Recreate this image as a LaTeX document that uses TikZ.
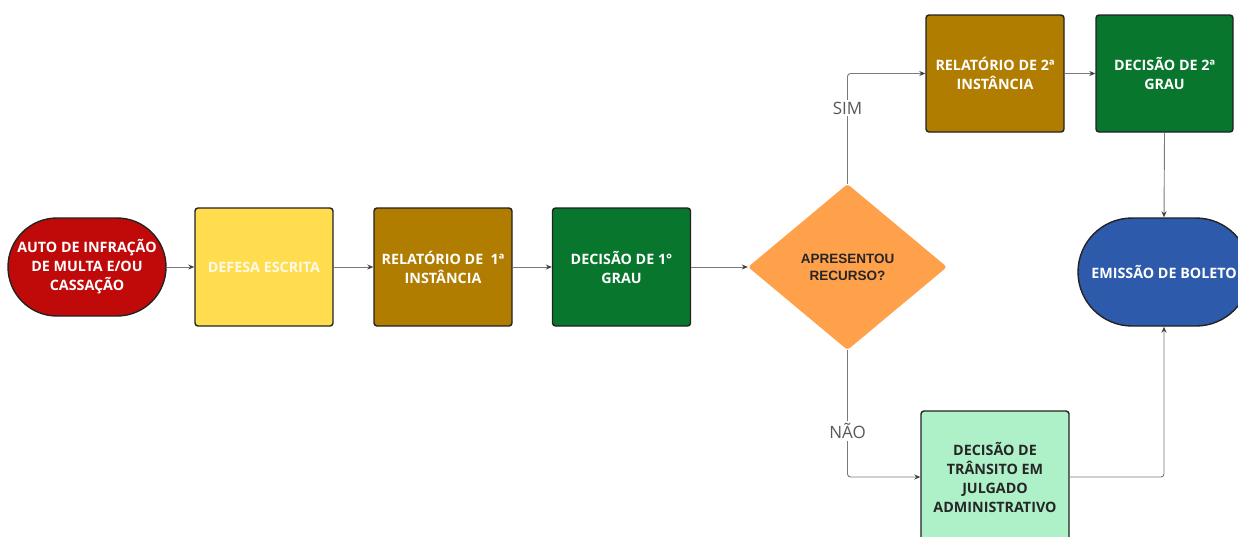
\documentclass[tikz,border=0pt]{standalone}
\usepackage{fontspec}
\setmainfont{Open Sans}
\newfontfamily\diafont{Liberation Sans}
\usetikzlibrary{arrows.meta,shapes.geometric}
\definecolor{cred}{HTML}{C00A0A}
\definecolor{cyellow}{HTML}{FFDD4F}
\definecolor{cytext}{HTML}{FFF9E6}
\definecolor{cbrown}{HTML}{B07D00}
\definecolor{cgreen}{HTML}{08762C}
\definecolor{corange}{HTML}{FFA04A}
\definecolor{cblue}{HTML}{2D5AAB}
\definecolor{clight}{HTML}{AEF0C8}
\definecolor{cline}{HTML}{7A7A7A}
\definecolor{cborder}{HTML}{222222}
\tikzset{
  box/.style={draw=cborder, line width=1.4pt, rounded corners=3pt, minimum width=138pt, minimum height=118pt, align=center, font=\bfseries\fontsize{14.3}{19}\selectfont, text=white, inner sep=2pt},
  term/.style={draw=cborder, line width=1.4pt, align=center, font=\bfseries\fontsize{14.3}{19}\selectfont, text=white, inner sep=0pt},
  conn/.style={draw=cline, line width=0.9pt, -{Stealth[length=6pt,width=5pt,color=black!75]}, rounded corners=3pt},
  lbl/.style={fill=white, text=black!65, font=\fontsize{17}{20}\selectfont, inner sep=2pt}
}
\begin{document}
\begin{tikzpicture}[x=1pt,y=-1pt]
\useasboundingbox (0,0) rectangle (1238,536);
\node[term, fill=cred, minimum width=158pt, minimum height=98pt, rounded corners=49pt] (auto) at (87,267) {AUTO DE INFRAÇÃO\\DE MULTA E/OU\\CASSAÇÃO};
\node[box, fill=cyellow, text=cytext] (defesa) at (264,267) {DEFESA ESCRITA};
\node[box, fill=cbrown] (rel1) at (443,267) {RELATÓRIO DE \ 1ª\\INSTÂNCIA};
\node[box, fill=cgreen] (dec1) at (621.5,267) {DECISÃO DE 1°\\GRAU};
\node[diamond, fill=corange, minimum width=199pt, minimum height=166pt, inner sep=0pt, align=center, rounded corners=3pt, font=\diafont\bfseries\fontsize{13.5}{17}\selectfont, text=black!85] (dia) at (847.5,267) {APRESENTOU\\RECURSO?};
\node[box, fill=cbrown, minimum height=117pt] (rel2) at (995,73.5) {RELATÓRIO DE 2ª\\INSTÂNCIA};
\node[box, fill=cgreen, minimum height=117pt, minimum width=137pt] (dec2) at (1164.5,73.5) {DECISÃO DE 2ª\\GRAU};
\node[term, fill=cblue, minimum width=172pt, minimum height=108pt, rounded corners=54pt] (emis) at (1164,272) {EMISSÃO DE BOLETO};
\node[box, fill=clight, text=black!85, minimum width=148pt, minimum height=132pt] (trans) at (995,477) {DECISÃO DE\\TRÂNSITO EM\\JULGADO\\ADMINISTRATIVO};
\draw[conn] (auto) -- (defesa);
\draw[conn] (defesa) -- (rel1);
\draw[conn] (rel1) -- (dec1);
\draw[conn] (dec1) -- (dia);
\draw[conn] (dia.north) |- (rel2.west);
\node[lbl] (sim) at (847.5,108) {SIM};
\draw[conn] (rel2) -- (dec2);
\draw[conn] (dec2.south) -- (emis.north);
\draw[conn] (dia.south) |- (trans.west);
\node[lbl] (nao) at (847.5,431) {NÃO};
\draw[conn] (trans.east) -| (emis.south);
\end{tikzpicture}
\end{document}
